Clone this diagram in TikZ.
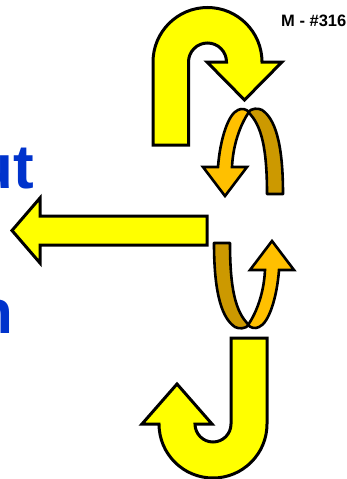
\documentclass[tikz,border=0pt]{standalone}
\usepackage{fontspec}
\setmainfont{Liberation Sans}
\definecolor{arrowyellow}{RGB}{255,255,0}
\definecolor{lightband}{RGB}{255,192,0}
\definecolor{darkband}{RGB}{204,153,0}
\definecolor{textblue}{RGB}{0,51,204}
\tikzset{
  bigarrow/.style={draw=black, line width=3pt, fill=arrowyellow, line join=miter},
  lightribbon/.style={draw=black, line width=2.6pt, fill=lightband, line join=miter},
  darkribbon/.style={draw=black, line width=2.6pt, fill=darkband, line join=round},
  bigword/.style={inner sep=0pt, anchor=base east, text=textblue, font=\bfseries\fontsize{62}{62}\selectfont},
  tag/.style={inner sep=0pt, anchor=base east, font=\bfseries\fontsize{16.5}{16.5}\selectfont}
}
\begin{document}
\begin{tikzpicture}[x=1pt,y=1pt,yscale=-1]
\useasboundingbox (0,0) rectangle (347,479);
% top hook arrow
\draw[bigarrow] (153,145) -- (153,62) arc[start angle=180,end angle=360,radius=54.5]
  -- (282,62) -- (244.5,100) -- (207,62) -- (226.5,62)
  arc[start angle=0,end angle=-180,radius=19] -- (188.5,145) -- cycle;
% bottom J arrow
\draw[bigarrow] (231,338) -- (267,338) -- (267,424)
  arc[start angle=0,end angle=180,radius=54] -- (142,424) -- (177,384) -- (212,424) -- (195,424)
  arc[start angle=180,end angle=0,radius=18] -- cycle;
% left arrow
\draw[bigarrow] (207,216) -- (40,216) -- (40,198) -- (12,230.5) -- (40,263) -- (40,245) -- (207,245) -- cycle;
% top twisted loop
\draw[darkribbon] (248,112) .. controls (252,108) and (258,108) .. (262,110)
  .. controls (274,118) and (283,140) .. (283,194) -- (267,194)
  .. controls (267,150) and (262,125) .. (248,112) -- cycle;
\draw[lightribbon] (218,167) .. controls (220,140) and (228,114) .. (238,110)
  .. controls (242,108) and (246,109) .. (249,112)
  .. controls (240,125) and (233,145) .. (232,167)
  -- (247,167) -- (225,196) -- (203,167) -- cycle;
% bottom twisted loop (same shape turned half round)
\begin{scope}[rotate around={180:(248.5,218.5)}]
\draw[darkribbon] (248,112) .. controls (252,108) and (258,108) .. (262,110)
  .. controls (274,118) and (283,140) .. (283,194) -- (267,194)
  .. controls (267,150) and (262,125) .. (248,112) -- cycle;
\draw[lightribbon] (218,167) .. controls (220,140) and (228,114) .. (238,110)
  .. controls (242,108) and (246,109) .. (249,112)
  .. controls (240,125) and (233,145) .. (232,167)
  -- (247,167) -- (225,196) -- (203,167) -- cycle;
\end{scope}
% texts
\node[bigword] (wordut) at (34,188) {ut};
\node[bigword] (wordn) at (13.5,333) {n};
\node[tag] (label) at (346.5,26) {M - \#316};
\end{tikzpicture}
\end{document}
